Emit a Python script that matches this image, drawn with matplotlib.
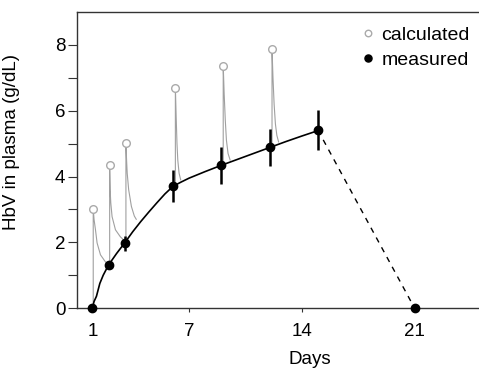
import matplotlib
matplotlib.use('Agg')
import matplotlib.pyplot as plt

plt.rcParams['font.family'] = ['Liberation Sans', 'DejaVu Sans']

# measured HbV (mean, error)
days = [1, 2, 3, 6, 9, 12, 15, 21]
measured = [0, 1.31, 1.97, 3.72, 4.34, 4.89, 5.41, 0]
err = [0, 0, 0.22, 0.48, 0.56, 0.56, 0.6, 0]

# calculated peaks after each dose
dose_days = [1.05, 2.07, 3.08, 6.15, 9.12, 12.15]
peak_base = [0, 1.31, 1.97, 3.72, 4.34, 4.89]
calc_peak = [3.02, 4.34, 5.02, 6.7, 7.37, 7.87]

# decay of calculated level after each peak
decay_t = [
    [1.1, 1.19, 1.29, 1.5, 1.8, 1.97],
    [2.1, 2.14, 2.22, 2.43, 2.73, 2.94],
    [3.12, 3.16, 3.25, 3.42, 3.6, 3.72],
    [6.2, 6.25, 6.3, 6.38, 6.48],
    [9.18, 9.25, 9.32, 9.42, 9.55],
    [12.21, 12.28, 12.36, 12.45, 12.56],
]
decay_y = [
    [2.7, 2.38, 1.98, 1.62, 1.41, 1.35],
    [3.6, 3.2, 2.78, 2.38, 2.17, 2.07],
    [4.5, 4.1, 3.6, 3.09, 2.8, 2.7],
    [5.8, 5.0, 4.5, 4.1, 3.9],
    [6.5, 5.7, 5.1, 4.7, 4.5],
    [7.0, 6.2, 5.6, 5.25, 5.05],
]

# fitted curve through measured values
fit_t = [1, 1.1, 1.25, 1.46, 1.67, 2, 2.5, 3, 3.5, 4, 4.5, 5, 5.5, 6, 6.5, 7, 8, 9, 10, 11, 12, 13, 14, 15.1]
fit_y = [0, 0.2, 0.36, 0.75, 1.0, 1.31, 1.66, 1.98, 2.32, 2.63, 2.92, 3.2, 3.47, 3.7, 3.83, 3.95, 4.15, 4.34, 4.52, 4.7, 4.88, 5.06, 5.23, 5.41]

gray = '#a0a0a0'

fig = plt.figure(figsize=(4.79, 3.69), dpi=100)
ax = fig.add_axes([0.161, 0.165, 0.839, 0.8025])

for t0, b, p, dt, dy in zip(dose_days, peak_base, calc_peak, decay_t, decay_y):
    ax.plot([t0, t0] + dt, [b, p] + dy, color=gray, lw=0.8, zorder=2)

ax.plot(fit_t, fit_y, color='black', lw=1.2, zorder=3)
ax.plot([days[-2], days[-1]], [measured[-2], measured[-1]], color='black',
        lw=1.0, ls=(0, (4, 4)), zorder=3)

ax.errorbar(days, measured, yerr=err, fmt='none', ecolor='black', elinewidth=1.8,
            capsize=0, zorder=4)
ax.plot(days, measured, 'o', color='black', ms=6, zorder=5, clip_on=False,
        label='measured')
ax.plot(dose_days, calc_peak, 'o', mfc='white', mec='#aaaaaa', mew=1.0, ms=5.5,
        zorder=5, ls='none', label='calculated')

ax.set_xlim(0.05, 25)
ax.set_ylim(0, 9)
ax.set_xticks([1, 7, 14, 21])
ax.set_yticks(range(0, 9))
ax.set_yticklabels(['0', '', '2', '', '4', '', '6', '', '8'])
ax.tick_params(axis='both', labelsize=13.5, color='#333333')
ax.tick_params(axis='y', length=6.5, pad=2)
ax.tick_params(axis='x', length=3, pad=8)

ax.spines['right'].set_visible(False)
for s in ['left', 'top', 'bottom']:
    ax.spines[s].set_color('#333333')
    ax.spines[s].set_linewidth(1.0)

ax.set_xlabel('Days', fontsize=13.5)
ax.xaxis.set_label_coords(0.58, -0.145)
ax.set_ylabel('HbV in plasma (g/dL)', fontsize=13.5)
ax.yaxis.set_label_coords(-0.142, 0.5625)

h, l = ax.get_legend_handles_labels()
leg = ax.legend(h[::-1], l[::-1], loc='upper left', bbox_to_anchor=(0.675, 0.997),
                frameon=False, fontsize=14, handlelength=0.6, handletextpad=0.4,
                labelspacing=0.35, borderpad=0.2, markerscale=0.85)

fig.savefig('out.png', dpi=100)
